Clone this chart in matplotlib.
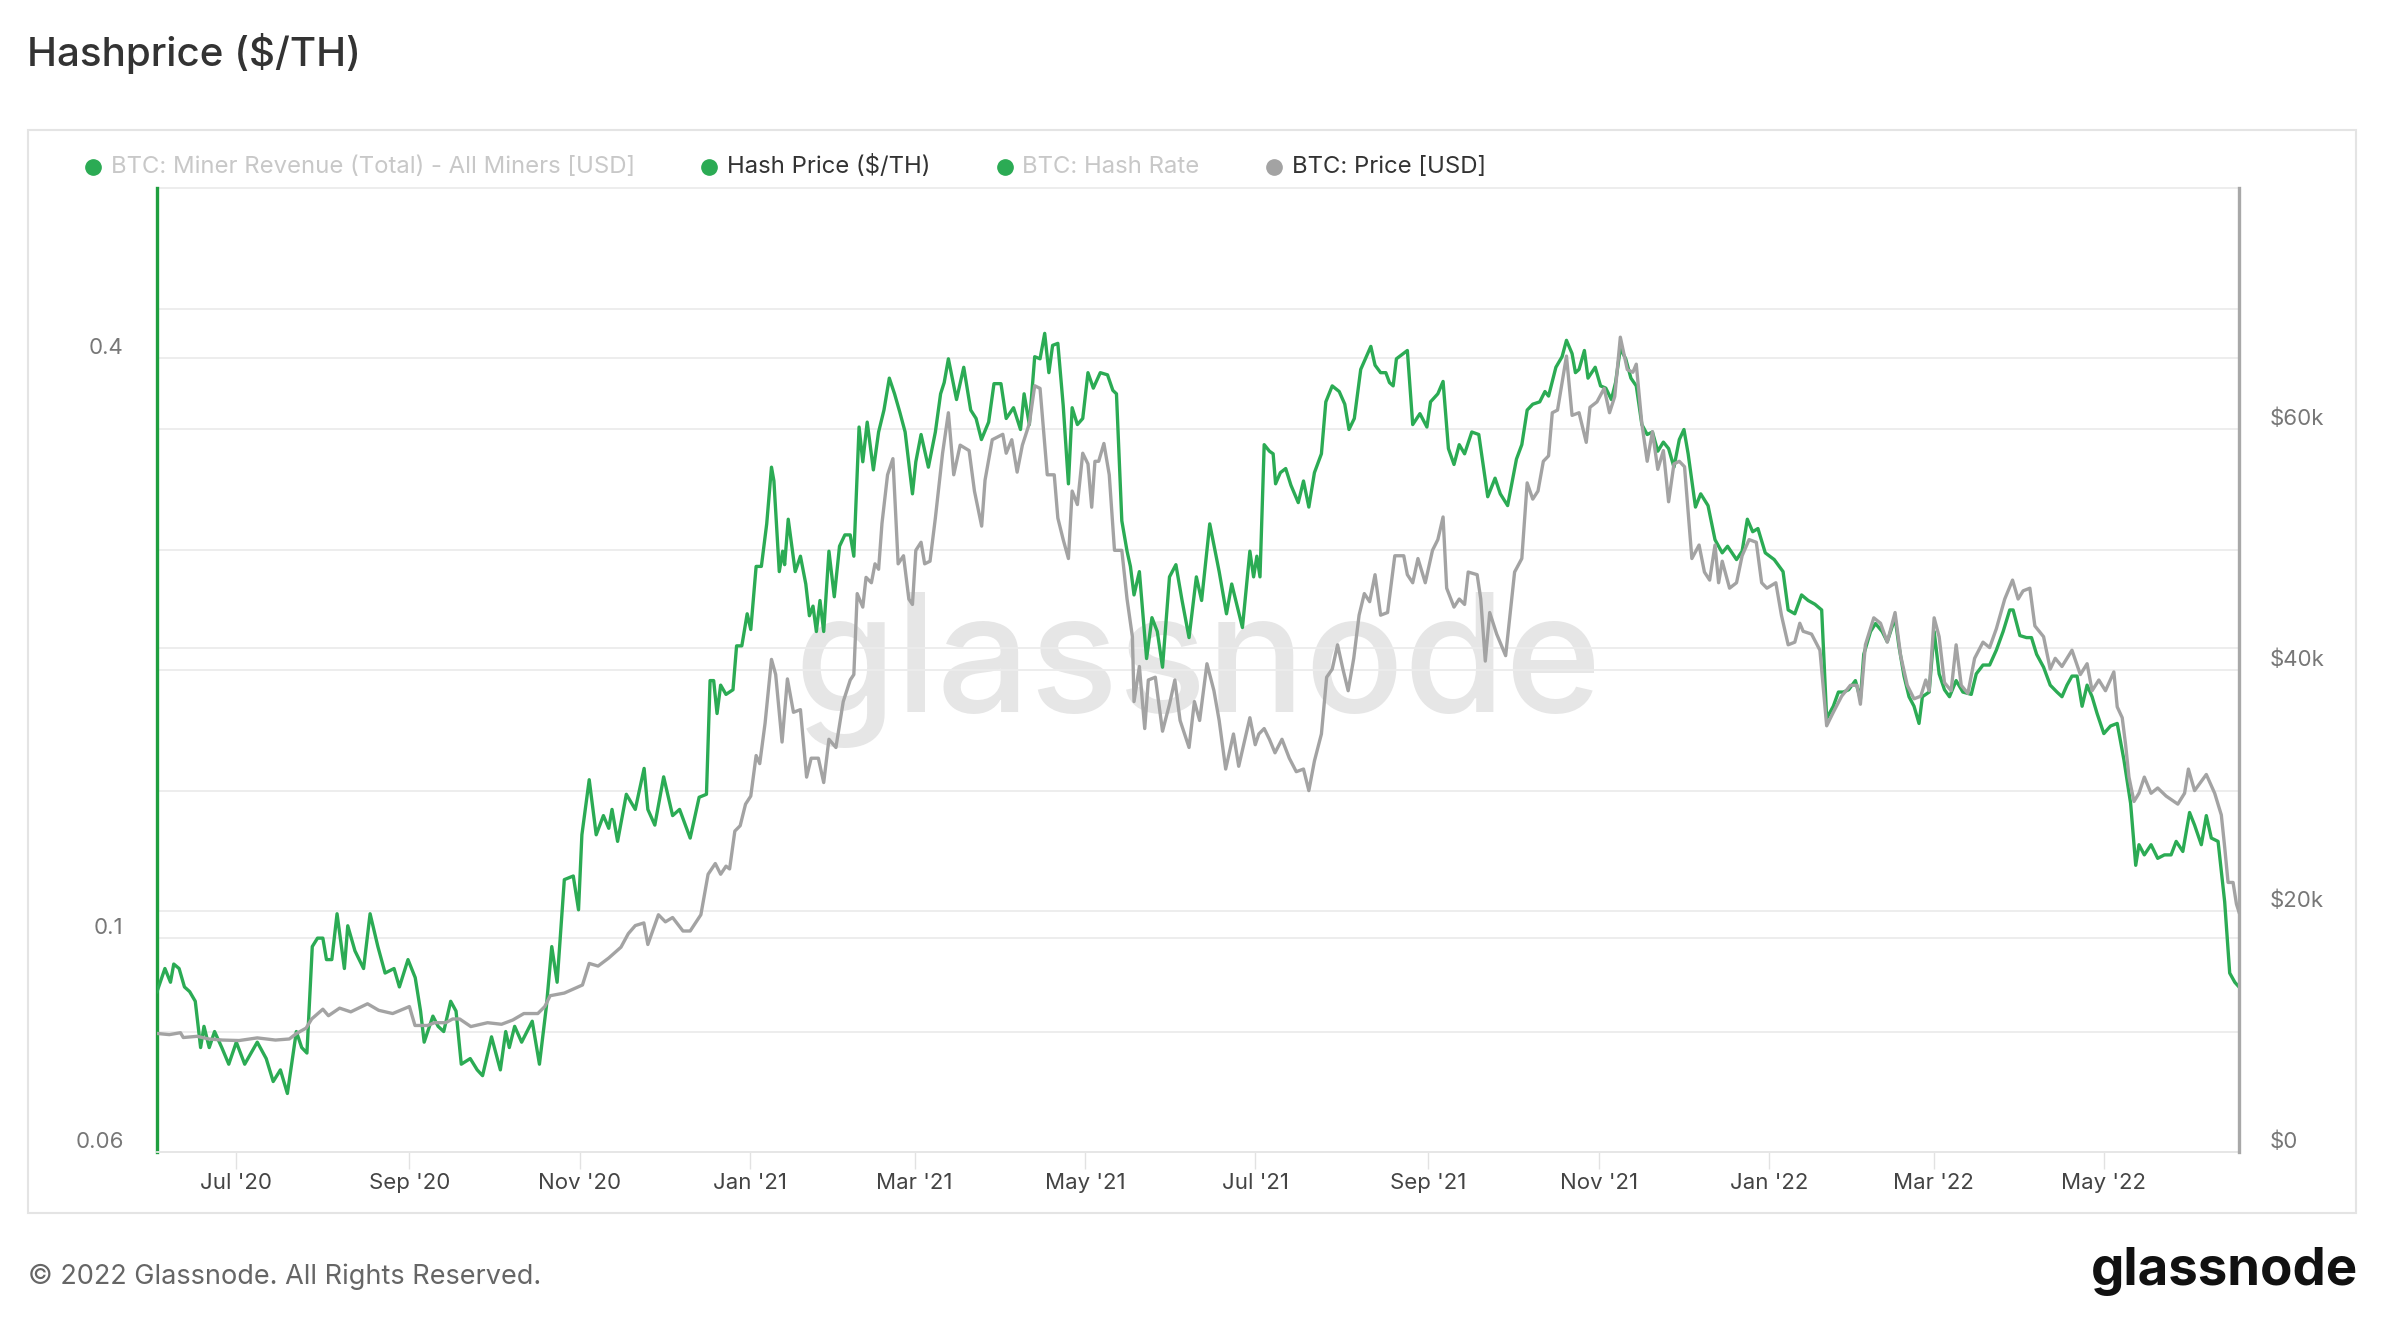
import numpy as np
import matplotlib
matplotlib.use("Agg")
import matplotlib.pyplot as plt
import matplotlib.dates as mdates
import matplotlib.transforms as mtransforms
from matplotlib.lines import Line2D
from matplotlib.patches import Rectangle
from matplotlib.ticker import FixedLocator, FixedFormatter, NullLocator

plt.rcParams['font.family'] = ['Inter', 'DejaVu Sans']

# ---------------- data (days relative to 2020-07-01) ----------------
BASE_DATE = '2020-07-01'

hashprice_days = [
    -28.4, -25.6, -23.6, -22.4, -20.5, -18.6, -16.7, -14.7, -12.8, -11.6,
    -9.7, -7.8, -5.2, -2.7, 0.0, 3.0, 7.5, 10.7, 13.2, 15.8,
    18.3, 21.5, 23.4, 25.3, 27.2, 29.1, 31.0, 32.3, 34.2, 36.1,
    38.7, 39.9, 42.5, 45.6, 47.9, 50.7, 53.3, 56.5, 58.4, 61.5,
    64.1, 66.0, 67.3, 70.4, 72.3, 74.3, 76.8, 78.7, 80.6, 83.8,
    86.3, 88.2, 91.4, 94.6, 96.5, 97.8, 99.7, 102.2, 106.0, 108.6,
    111.1, 113.0, 114.9, 117.5, 120.7, 122.6, 123.8, 126.4, 128.9, 131.5,
    133.4, 134.6, 136.6, 139.7, 142.9, 146.1, 147.4, 149.9, 153.1, 156.3,
    158.8, 162.6, 165.8,
    168.4, 169.7, 171.0, 172.2, 173.5, 175.4, 177.9, 179.2, 181.1, 183.0,
    184.3, 186.2, 188.1, 190.0, 191.7, 192.6, 194.5, 195.7, 196.4, 197.7,
    200.2, 202.1, 204.0, 205.3, 206.6, 207.8, 209.1, 210.4, 212.3, 214.2,
    216.1, 218.0, 219.9, 221.2, 223.1, 224.4, 226.0, 228.2, 230.1, 232.0,
    233.9, 235.8, 237.7, 239.6, 242.2, 243.4, 245.3, 247.9, 250.4, 252.3,
    253.6, 255.1, 258.0, 260.6, 263.1, 265.0, 266.9, 269.5, 271.4, 273.9,
    275.8, 278.4, 280.9, 282.2, 284.1, 286.0, 287.9, 289.6, 291.1, 292.4,
    294.3, 296.2, 298.1, 299.4, 301.3, 303.2, 305.1, 307.0, 309.5, 312.1,
    314.0, 315.3, 317.2, 319.1, 320.3, 321.6, 323.5, 326.1, 328.0, 329.9,
    331.8, 334.3, 336.6, 338.8, 341.3, 343.9, 345.8, 348.7, 352.1, 354.7,
    356.6, 360.4,
    363.1, 364.4, 365.6, 366.7, 368.2, 370.1, 371.4, 372.3, 374.0, 375.9,
    377.8, 380.4, 382.3, 384.2, 386.2, 388.7, 390.3, 392.6, 395.1, 397.1,
    398.6, 400.5, 402.8, 406.4, 407.9, 409.9, 411.8, 413.1, 414.4, 415.6,
    419.5, 421.4, 424.0, 426.5, 427.8, 430.4, 432.3, 434.2, 436.2, 438.1,
    440.0, 442.6, 445.1, 448.3, 450.9, 452.8, 455.4, 458.6, 460.5, 462.4,
    464.4, 466.9, 468.8, 470.1, 472.7, 474.9, 476.5, 478.5, 479.7, 481.0,
    482.9, 484.2, 486.8, 488.7, 490.6, 492.6, 494.1, 495.8, 497.7, 499.6,
    501.5, 503.5, 505.4, 507.3, 509.2, 511.2, 513.1, 515.0, 516.9, 518.6,
    520.1, 522.7, 524.6, 527.2, 529.7, 532.3, 534.2, 537.4, 539.4, 541.3,
    543.2, 545.1, 547.7, 550.9, 554.1,
    555.9, 558.3, 560.7, 563.1, 565.5, 567.9, 569.7, 572.1, 573.9, 575.7,
    577.6, 580.0, 581.8, 583.0, 585.4, 587.2, 589.6, 591.4, 594.2, 595.6,
    597.4, 599.2, 601.0, 602.8, 604.0, 606.4, 608.2, 610.0, 611.9, 613.7,
    616.1, 618.5, 621.5, 623.3, 625.7, 628.1, 630.5, 632.9, 635.3, 636.5,
    638.9, 641.3, 643.1, 644.9, 647.4, 649.8, 652.2, 654.0, 655.8, 657.6,
    659.4, 661.2, 663.0, 664.8, 666.6, 669.0, 671.4, 673.8, 676.2, 678.6,
    680.4, 681.6, 683.5, 685.9, 688.3, 690.7, 693.1, 694.9, 697.3, 699.7,
    701.5, 703.9, 705.7, 707.5, 709.9, 712.3, 714.1, 715.9, 717.4,
]

hashprice_values = [
    0.088, 0.093, 0.090, 0.094, 0.093, 0.089, 0.088, 0.086, 0.077, 0.081,
    0.077, 0.080, 0.077, 0.074, 0.078, 0.074, 0.078, 0.075, 0.071, 0.073,
    0.069, 0.080, 0.077, 0.076, 0.098, 0.100, 0.100, 0.095, 0.095, 0.106,
    0.093, 0.103, 0.097, 0.093, 0.106, 0.098, 0.092, 0.093, 0.089, 0.095,
    0.091, 0.084, 0.078, 0.083, 0.081, 0.080, 0.086, 0.084, 0.074, 0.075,
    0.073, 0.072, 0.079, 0.073, 0.080, 0.077, 0.081, 0.078, 0.082, 0.074,
    0.085, 0.098, 0.090, 0.115, 0.116, 0.107, 0.128, 0.146, 0.128, 0.134,
    0.130, 0.136, 0.126, 0.141, 0.136, 0.150, 0.136, 0.131, 0.147, 0.134,
    0.136, 0.127, 0.140,
    0.141, 0.185, 0.185, 0.171, 0.183, 0.179, 0.181, 0.201, 0.201, 0.217,
    0.209, 0.243, 0.243, 0.269, 0.308, 0.298, 0.240, 0.252, 0.244, 0.272,
    0.240, 0.249, 0.233, 0.216, 0.221, 0.208, 0.224, 0.208, 0.252, 0.226,
    0.255, 0.262, 0.262, 0.249, 0.339, 0.312, 0.343, 0.306, 0.335, 0.353,
    0.381, 0.367, 0.351, 0.335, 0.289, 0.312, 0.333, 0.308, 0.335, 0.367,
    0.377, 0.399, 0.362, 0.391, 0.353, 0.346, 0.329, 0.343, 0.376, 0.376,
    0.346, 0.355, 0.337, 0.367, 0.341, 0.401, 0.399, 0.424, 0.386, 0.412,
    0.414, 0.357, 0.296, 0.355, 0.341, 0.346, 0.386, 0.372, 0.386, 0.384,
    0.370, 0.367, 0.271, 0.252, 0.243, 0.227, 0.240, 0.195, 0.215, 0.208,
    0.191, 0.237, 0.244, 0.224, 0.205, 0.237, 0.224, 0.269, 0.240, 0.217,
    0.233, 0.210,
    0.252, 0.237, 0.249, 0.237, 0.325, 0.320, 0.318, 0.296, 0.304, 0.307,
    0.295, 0.283, 0.298, 0.280, 0.304, 0.318, 0.360, 0.374, 0.369, 0.358,
    0.337, 0.346, 0.389, 0.411, 0.393, 0.386, 0.386, 0.377, 0.374, 0.399,
    0.407, 0.341, 0.350, 0.339, 0.360, 0.367, 0.378, 0.322, 0.310, 0.325,
    0.318, 0.335, 0.333, 0.287, 0.300, 0.289, 0.281, 0.314, 0.325, 0.353,
    0.358, 0.360, 0.369, 0.365, 0.391, 0.401, 0.417, 0.404, 0.386, 0.389,
    0.407, 0.381, 0.391, 0.374, 0.372, 0.362, 0.377, 0.409, 0.399, 0.381,
    0.374, 0.341, 0.333, 0.335, 0.320, 0.327, 0.322, 0.308, 0.329, 0.337,
    0.318, 0.280, 0.289, 0.281, 0.259, 0.251, 0.255, 0.247, 0.252, 0.272,
    0.264, 0.266, 0.251, 0.247, 0.240,
    0.219, 0.217, 0.227, 0.224, 0.222, 0.219, 0.169, 0.174, 0.180, 0.180,
    0.181, 0.185, 0.177, 0.197, 0.208, 0.212, 0.208, 0.203, 0.215, 0.201,
    0.187, 0.178, 0.174, 0.167, 0.178, 0.180, 0.208, 0.188, 0.181, 0.178,
    0.185, 0.180, 0.179, 0.188, 0.192, 0.192, 0.199, 0.208, 0.219, 0.219,
    0.206, 0.205, 0.205, 0.197, 0.191, 0.183, 0.180, 0.178, 0.183, 0.187,
    0.187, 0.174, 0.183, 0.178, 0.171, 0.163, 0.166, 0.167, 0.153, 0.138,
    0.119, 0.125, 0.122, 0.125, 0.121, 0.122, 0.122, 0.126, 0.123, 0.135,
    0.131, 0.125, 0.134, 0.127, 0.126, 0.109, 0.092, 0.090, 0.089,
]

price_days = [
    -28, -24, -20, -19, -14, -10, -5, 1, 7.5, 14,
    19, 21.5, 25, 27, 31, 33, 37, 41, 47, 51,
    56, 62, 64, 68.5, 71, 75, 77.5, 80, 84, 90,
    95, 99, 103, 108, 110.5, 112.4, 117.5, 124, 126.4, 129.6,
    133.4, 137.8, 140.4, 142.9, 146, 147.4, 151.2, 153.7, 156.3, 160,
    162.6, 166.4,
    169.0, 171.6, 173.5, 175.4, 176.7, 178.6, 180.5, 182.4, 184.3, 186.2,
    187.5, 189.4, 191.7, 193.2, 195.5, 197.4, 199.6, 202.1, 204.3, 205.9,
    208.5, 210.4, 212.3, 214.8, 217.4, 219.9, 221.2, 222.4, 224.4, 225.6,
    227.5, 228.8, 230.1, 231.3, 233.3, 235.2, 237.1, 239.0, 240.9, 242.2,
    243.4, 245.3, 246.6, 248.5, 250.4, 253.0, 255.1, 257.0, 259.3, 262.5,
    264.4, 267.0, 268.2, 270.8, 274.6, 275.8, 277.8, 279.7, 281.6, 284.1,
    286.0, 287.9, 290.5, 293.0, 294.3, 296.2, 298.1, 299.4, 301.3, 303.2,
    305.1, 306.4, 307.6, 308.9, 310.8, 312.7, 314.6, 317.2, 319.1, 321.0,
    321.6, 323.5, 325.4, 326.7, 329.2, 331.8, 334.3, 336.2, 338.1, 341.3,
    343.2, 345.1, 347.7, 350.2, 352.1, 354.4, 357.2, 359.1,
    363.1, 365.0, 366.3, 368.2, 370.1, 372.1, 374.6, 377.2, 379.7, 382.3,
    384.2, 386.2, 388.7, 390.6, 392.6, 394.5, 396.4, 398.3, 400.3, 402.2,
    404.1, 406.0, 407.9, 409.9, 412.4, 415.0, 418.2, 419.5, 421.4, 423.3,
    425.9, 428.5, 430.4, 432.3, 433.6, 436.2, 438.1, 440.0, 441.3, 444.5,
    445.8, 447.4, 449.0, 451.5, 454.7, 457.9, 460.5, 462.4, 464.4, 466.3,
    468.2, 470.1, 471.4, 473.3, 476.5, 478.5, 481.0, 483.6, 484.9, 487.4,
    490.0, 491.9, 493.8, 495.8, 498.3, 500.3, 501.5, 503.5, 505.4, 507.3,
    509.2, 511.2, 513.1, 515.0, 516.9, 518.8, 521.4, 524.0, 525.9, 527.8,
    529.7, 531.0, 532.3, 534.9, 537.4, 539.4, 541.9, 544.5, 546.4, 548.3,
    551.5, 553.5,
    555.9, 558.3, 560.1, 561.3, 564.3, 567.3, 569.7, 572.1, 575.1, 578.2,
    580.6, 581.8, 583.6, 586.6, 589.0, 591.4, 594.2, 596.2, 598.6, 601.0,
    603.4, 605.2, 606.4, 608.2, 610.0, 611.9, 614.3, 616.1, 617.9, 620.3,
    622.7, 625.7, 628.1, 630.5, 633.5, 636.3, 638.3, 640.1, 642.5, 644.3,
    647.4, 649.8, 651.6, 654.0, 657.6, 660.6, 663.0, 664.8, 667.2, 669.6,
    672.6, 673.8, 675.6, 676.8, 678.0, 679.8, 681.6, 683.5, 685.9, 688.3,
    691.3, 695.5, 697.9, 699.3, 701.5, 705.7, 708.7, 711.1, 712.3, 713.5,
    715.3, 716.5, 717.4,
]

price_values = [
    9830, 9740, 9900, 9500, 9600, 9380, 9290, 9250, 9470, 9290,
    9380, 9830, 10280, 11040, 11850, 11310, 11940, 11630, 12300, 11760,
    11490, 12070, 10500, 10500, 10730, 10730, 11040, 11040, 10410, 10730,
    10600, 10950, 11490, 11490, 12070, 12970, 13190, 13860, 15650, 15430,
    16100, 17000, 18120, 18790, 19010, 17220, 19690, 19100, 19460, 18340,
    18340, 19690,
    23050, 23940, 23050, 23720, 23490, 26630, 27080, 28870, 29540, 32900,
    32230, 35590, 40880, 39630, 34020, 39260, 36490, 36710, 31110, 32680,
    32680, 30660, 34250, 33570, 37380, 39170, 39620, 46340, 45220, 47690,
    47240, 48810, 48360, 52170, 56200, 57540, 48810, 49480, 45890, 45440,
    49930, 50600, 48810, 49030, 52610, 57990, 61350, 56200, 58660, 58210,
    54850, 51940, 55750, 59110, 59560, 57990, 59110, 56420, 58660, 60450,
    63590, 63370, 56200, 56200, 52610, 50820, 49250, 54850, 53730, 57990,
    57100, 53510, 57320, 57320, 58800, 56200, 49930, 49930, 45890, 42760,
    37380, 40290, 35140, 39170, 39400, 34920, 37160, 39170, 35810, 33570,
    37380, 35810, 40520, 38280, 35810, 31780, 34690, 32010,
    36040, 33800, 34690, 35140, 34250, 33130, 34250, 32680, 31560, 31780,
    29990, 32450, 34690, 39400, 40070, 42090, 40070, 38280, 40970, 44550,
    46340, 45670, 47910, 44550, 44770, 49480, 49480, 47910, 47240, 49250,
    47240, 49930, 50820, 52700, 46790, 45220, 45890, 45440, 48130, 47910,
    45890, 40740, 44770, 42980, 41190, 48130, 49250, 55530, 54180, 54850,
    57320, 57770, 61350, 61570, 66050, 61130, 61350, 58890, 61800, 62250,
    63370, 61350, 62700, 67620, 64930, 64710, 65380, 60450, 57320, 59780,
    56650, 58210, 53960, 57100, 57320, 56870, 49250, 50370, 48130, 47460,
    50370, 47240, 49030, 46790, 47240, 49480, 50820, 50600, 47240, 46790,
    47240, 44550,
    42090, 42310, 43880, 43210, 42980, 41640, 35370, 36490, 37830, 38730,
    38730, 37160, 42090, 44330, 43880, 42310, 44770, 41190, 38730, 37610,
    37830, 39170, 38280, 44330, 42760, 38950, 38280, 42090, 38730, 38060,
    40970, 42310, 41860, 43430, 45890, 47460, 45890, 46570, 46790, 43660,
    42760, 40070, 40970, 40290, 41640, 39620, 40520, 38280, 39170, 38280,
    39840, 36940, 36040, 33800, 31110, 29090, 29770, 31110, 29770, 30210,
    29540, 28870, 29770, 31780, 29990, 31330, 29770, 27970, 25290, 22370,
    22370, 20580, 19910,
]

left_ticks = [0.06, 0.1, 0.2, 0.4]
left_labels = ['0.06', '0.1', '', '0.4']
right_ticks = [0, 10000, 20000, 30000, 40000, 50000, 60000, 70000, 80000]
right_labels = ['$0', '', '$20k', '', '$40k', '', '$60k', '', '']

legend_labels = ['BTC: Miner Revenue (Total) - All Miners [USD]', 'Hash Price ($/TH)',
                 'BTC: Hash Rate', 'BTC: Price [USD]']

# ---------------- styling ----------------
GREEN = '#2bab54'
GREEN_AXIS = '#1f9f3f'
GREY = '#a3a3a3'
GRID = '#ececec'


def to_dates(days):
    base = np.datetime64(BASE_DATE + 'T00:00')
    return base + np.round(np.asarray(days, dtype=float) * 24).astype('timedelta64[h]')


W, H, DPI = 2396, 1322, 100
fig = plt.figure(figsize=(W / DPI, H / DPI), dpi=DPI)
fig.patch.set_facecolor('white')

# outer card
fig.add_artist(Rectangle((28 / W, 1 - 1213 / H), (2356 - 28) / W, (1213 - 130) / H,
                         transform=fig.transFigure, fill=False, edgecolor='#e4e4e4',
                         lw=1.5, zorder=-1))

ax = fig.add_axes([157 / W, 1 - 1152 / H, (2239 - 157) / W, (1152 - 188) / H])
ax2 = ax.twinx()

hp_dates = to_dates(hashprice_days)
px_dates = to_dates(price_days)

ax.plot(hp_dates, hashprice_values, color=GREEN, lw=2.4, zorder=3, solid_joinstyle='round')
ax2.plot(px_dates, price_values, color=GREY, lw=2.4, zorder=3, solid_joinstyle='round')

ax.set_yscale('log')
ax.set_ylim(0.06, 0.6)
ax.yaxis.set_major_locator(FixedLocator(left_ticks))
ax.yaxis.set_major_formatter(FixedFormatter(left_labels))
ax.yaxis.set_minor_locator(NullLocator())
ax.set_xlim(hp_dates[0], hp_dates[-1])

ax2.set_ylim(0, 80000)
ax2.yaxis.set_major_locator(FixedLocator(right_ticks))
ax2.yaxis.set_major_formatter(FixedFormatter(right_labels))

# grid lines (left axis + right axis), drawn beneath the series
ax.grid(axis='y', which='major', color=GRID, lw=1.3, zorder=1)
ax.set_axisbelow(True)
blend = mtransforms.blended_transform_factory(ax.transAxes, ax2.transData)
for v in right_ticks:
    ax.plot([0, 1], [v, v], transform=blend, color=GRID, lw=1.3, zorder=1, clip_on=False)

# watermark
ax.text(0.5, 0.5, 'glassnode', transform=ax.transAxes, ha='center', va='center',
        fontsize=118, color='#e6e6e6', fontweight='medium', zorder=0.5)

# x axis
ax.xaxis.set_major_locator(mdates.MonthLocator(bymonth=[1, 3, 5, 7, 9, 11]))
ax.xaxis.set_major_formatter(mdates.DateFormatter("%b '%y"))
ax.tick_params(axis='x', length=12, width=1, color='#e2e2e2', pad=3,
               labelsize=16, labelcolor='#444444')
ax.tick_params(axis='y', which='both', length=0, pad=24, labelsize=16, labelcolor='#777777')
ax2.tick_params(axis='y', length=0, pad=22, labelsize=16, labelcolor='#777777')
for t in ax.get_yticklabels():
    t.set_verticalalignment('bottom')
for t in ax2.get_yticklabels():
    t.set_verticalalignment('bottom')

for s in ['top', 'right']:
    ax.spines[s].set_visible(False)
ax.spines['bottom'].set_color('#e6e6e6')
ax.spines['bottom'].set_linewidth(1.3)
ax.spines['left'].set_color(GREEN_AXIS)
ax.spines['left'].set_linewidth(2.4)
for s in ['top', 'left', 'bottom']:
    ax2.spines[s].set_visible(False)
ax2.spines['right'].set_color('#a8a8a8')
ax2.spines['right'].set_linewidth(2.4)

# title
fig.text(27 / W, 1 - 54 / H, 'Hashprice ($/TH)', fontsize=29, color='#333333',
         ha='left', va='center', fontweight='medium')

# legend row
leg_y = 1 - 167 / H
leg_items = [(93, 111, GREEN, '#c8c8c8'), (709, 727, GREEN, '#333333'),
             (1005, 1022, GREEN, '#c8c8c8'), (1274, 1292, GREY, '#333333')]
for (dx, tx, dc, tc), lab in zip(leg_items, legend_labels):
    fig.add_artist(Line2D([dx / W], [leg_y], marker='o', ms=11, ls='none',
                          color=dc, transform=fig.transFigure))
    fig.text(tx / W, leg_y, lab, fontsize=17.2, color=tc, ha='left', va='center')

# footer
fig.text(28 / W, 1 - 1277 / H, '\u00a9 2022 Glassnode. All Rights Reserved.', fontsize=19.5,
         color='#666666', ha='left', va='center')
fig.text(2358 / W, 1 - 1272 / H, 'glassnode', fontsize=38, fontweight='bold',
         color='#111111', ha='right', va='center')

fig.savefig('out.png', dpi=DPI, facecolor='white')
